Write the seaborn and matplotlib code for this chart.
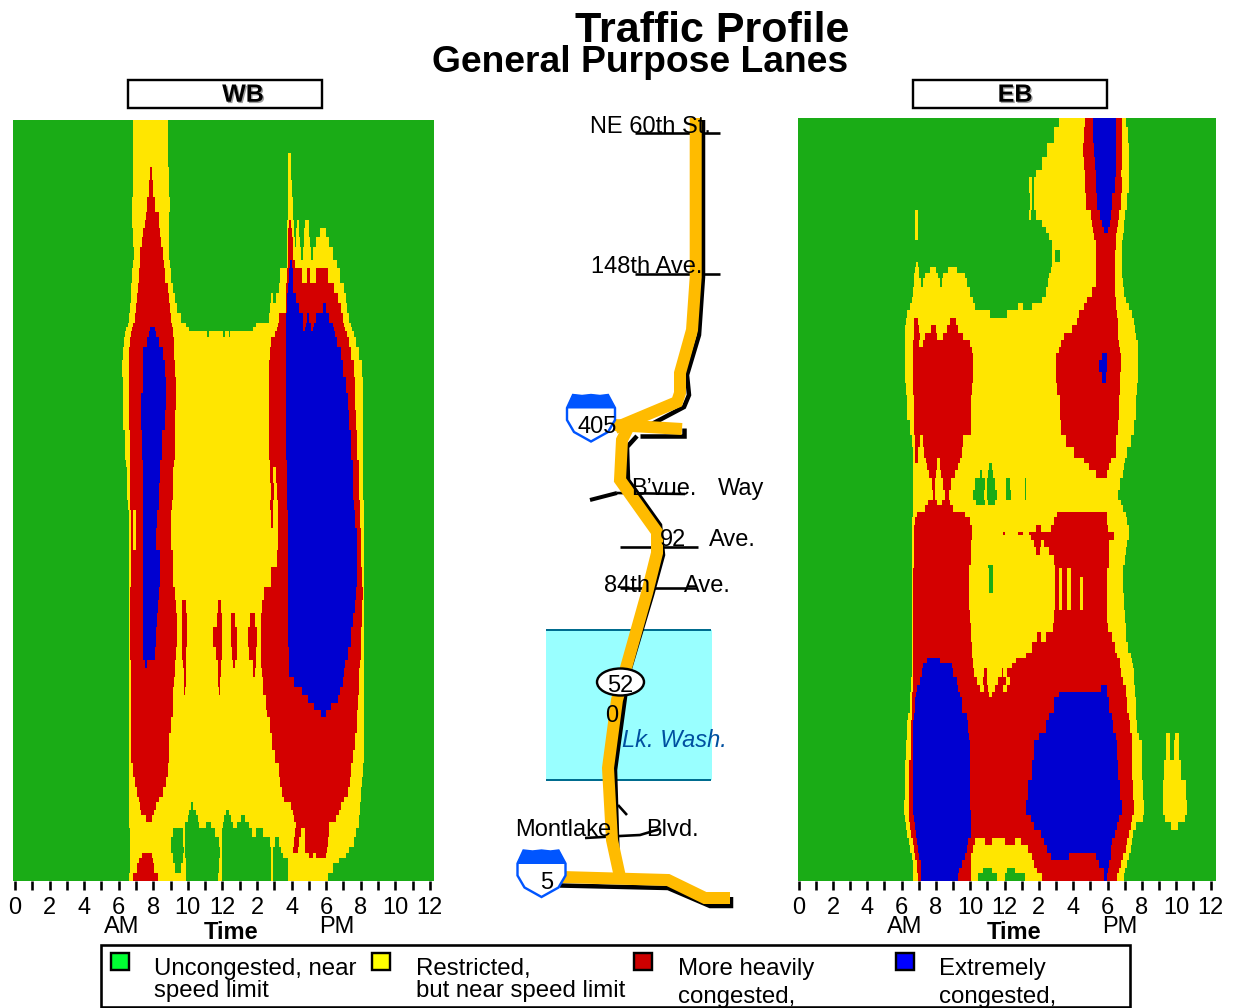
import numpy as np
import matplotlib
matplotlib.use("Agg")
import matplotlib.pyplot as plt
import matplotlib.patheffects as pe
from matplotlib.colors import ListedColormap
from matplotlib.patches import Rectangle, Ellipse, Polygon
import seaborn as sns

sns.set_theme(style="white")
plt.rcParams["font.family"] = ["Liberation Sans", "DejaVu Sans"]

# Congestion states along route (rows) and time of day (columns).
# Each row: (route index, "state+start-time-index" runs); states begin green.
STATE_COLORS = ["#1AAC16", "#FFE600", "#D40000", "#0000D0"]
LEGEND_COLORS = ["#00FF33", "#FFFF00", "#CC0000", "#0000FF"]
HOUR_LABELS = ["0", "2", "4", "6", "8", "10", "12", "2", "4", "6", "8", "10", "12"]

wb_upper = [
    (150, "Y400 G507"),
    (250, "Y400 G507 Y866 G874"),
    (290, "Y400 R452 Y458 G509 Y866 G876"),
    (330, "Y400 R448 Y462 G509 Y866 G878"),
    (380, "Y398 R444 Y466 G511 Y866 G880"),
    (425, "Y398 R440 Y478 G509 Y866 G882"),
    (450, "Y398 R436 Y478 G509 Y864 R868 Y876 G884 Y892 G898 Y916 G928"),
    (475, "Y400 R432 Y482 G510 Y864 R866 Y878 G884 Y890 G900 Y915 G930 Y962 G980"),
    (500, "Y402 R428 Y485 G510 Y864 R866 Y880 G886 Y890 G902 Y914 G932 Y950 G990"),
    (530, "Y404 R423 Y490 G510 Y864 R866 Y882 G906 Y912 G934 Y942 G1002"),
    (570, "Y402 R422 Y495 G512 Y862 R866 B872 R878 Y888 G1012"),
    (595, "Y398 R420 Y498 G514 Y842 R864 B868 R882 Y908 R922 Y932 R950 Y985 G1022"),
    (640, "Y396 R416 Y505 G520 Y838 R860 B866 R882 Y1005 G1034"),
    (670, "Y394 R414 Y508 G526 Y815 G822 Y830 R860 B864 R890 Y1015 G1040"),
    (700, "Y392 R410 Y512 G532 Y812 R860 B862 R900 B970 R980 Y1024 G1044"),
    (730, "Y388 R406 Y515 G545 Y808 R840 B860 R912 B922 R930 B950 R990 Y1030 G1050"),
    (760, "Y385 R400 Y518 G560 Y770 R835 B860 R912 B920 R935 B945 R1000 Y1035 G1055"),
    (770, "Y380 R398 B453 R466 Y520 G570 Y762 R832 B860 R912 B918 R935 B942 R1003 Y1038 G1058"),
    (782, "Y378 R396 B450 R470 Y521 G622 Y628 G672 Y676 G688 Y692 R826 B860 R1006 Y1044 G1064"),
    (800, "Y374 R392 B444 R480 Y523 R815 B860 R1012 Y1050 G1070"),
    (830, "Y372 R390 B432 R490 Y524 R812 B860 R1024 Y1055 G1080"),
    (870, "Y368 R388 B430 R498 Y528 R810 B860 R1032 Y1064 G1088"),
    (920, "Y370 R388 B430 R500 Y531 R810 B860 R1040 Y1066 G1090"),
    (970, "Y372 R390 B424 R500 Y531 R810 B860 R1046 Y1068 G1090"),
    (1020, "Y372 R390 B424 R496 Y528 R810 B860 R1050 Y1070 G1090"),
    (1080, "Y376 R392 B428 R488 Y526 R810 B860 R1054 Y1072 G1090"),
    (1170, "Y380 R392 B430 R482 Y524 R812 B862 R1060 Y1078 G1090"),
    (1190, "Y382 R392 B430 R481 Y522 R812 Y822 R830 B862 R1061 Y1079 G1090"),
    (1240, "Y384 R392 B430 R480 Y520 R814 Y824 R834 B862 R1062 Y1080 G1090"),
]
wb_lower = [
    (0, "Y385 R392 B430 R478 Y518 R812 Y820 R836 B864 R1064 Y1082 G1095"),
    (30, "Y388 R395 Y402 R410 B430 R474 Y516 R814 Y820 R836 B866 R1068 Y1082 G1095"),
    (85, "Y388 R395 Y402 R410 B430 R470 Y515 R836 B866 R1072 Y1084 G1095"),
    (150, "Y388 R394 B430 R482 Y520 R832 B866 R1074 Y1086 G1095"),
    (200, "Y388 R394 B430 R482 Y522 R815 B866 R1074 Y1088 G1095"),
    (260, "Y388 R392 B430 R480 Y528 R795 B866 R1070 Y1090 G1095"),
    (300, "Y388 R392 B430 R476 Y530 R548 Y560 R655 Y665 R788 B866 R1068 Y1088 G1095"),
    (340, "Y388 R392 B430 R472 Y532 R548 Y562 R652 Y668 R696 Y708 R752 Y768 R786 B866 R1062 Y1088 G1095"),
    (380, "Y388 R392 B430 R470 Y532 R548 Y562 R642 Y668 R694 Y712 R745 Y772 R785 B866 R1055 Y1086 G1095"),
    (440, "Y388 R392 B432 R468 Y530 R548 Y560 R650 Y667 R698 Y712 R750 Y770 R786 B868 R1045 Y1084 G1095"),
    (480, "Y388 R394 B436 R444 Y528 R552 Y560 R655 Y665 R700 Y708 R760 Y770 R786 B868 R1038 Y1082 G1095"),
    (505, "Y388 R394 Y526 R555 Y560 R656 Y664 R762 Y768 R788 B870 R1035 Y1080 G1095"),
    (530, "Y388 R394 Y524 R555 Y560 R657 Y663 R790 B885 R1030 Y1080 G1095"),
    (560, "Y388 R394 Y522 R555 Y558 R658 Y662 R792 B908 R1022 Y1078 G1095"),
    (585, "Y388 R394 Y522 R800 B925 R1015 Y1076 G1095"),
    (610, "Y388 R394 Y522 R800 B945 R995 Y1076 G1095"),
    (630, "Y388 R394 Y520 R804 B965 R980 Y1074 G1095"),
    (650, "Y388 R394 Y516 R812 Y1072 G1095"),
    (700, "Y388 R394 Y510 R818 Y1068 G1095"),
    (750, "Y388 R396 Y508 R826 Y1062 G1095"),
    (790, "Y388 R400 Y505 R838 Y1056 G1092"),
    (830, "Y388 R408 Y500 R842 Y1052 G1088"),
    (860, "Y388 R412 Y490 R848 Y1045 G1085"),
    (890, "Y388 R420 Y480 R855 Y1035 G1085"),
    (905, "Y388 R422 Y470 G575 Y582 R875 Y1025 G1082"),
    (930, "Y388 R425 Y465 G568 Y590 G680 Y688 R880 Y1020 G1082"),
    (945, "Y388 R440 Y458 G565 Y595 G675 Y695 G725 Y738 R885 Y1010 G1078"),
    (965, "Y390 G558 Y600 G620 Y635 G670 Y700 G712 Y748 R890 Y990 G1078"),
    (985, "Y392 G520 Y550 G558 Y648 G668 Y758 G770 Y792 R888 Y905 R916 Y988 G1070"),
    (1010, "Y392 G516 Y552 G558 Y660 G668 Y812 G828 Y840 R885 Y900 R918 Y985 G1065"),
    (1040, "Y392 G515 Y555 G558 Y662 G668 Y815 G822 Y845 R882 Y895 R918 Y982 G1050"),
    (1060, "Y392 R428 Y458 G520 Y552 G558 Y662 G668 Y815 G822 Y850 R930 Y940 R950 Y980 G1040"),
    (1075, "Y392 R420 Y462 G522 Y550 G560 Y660 G668 Y815 G822 Y866 G1020"),
    (1090, "Y392 R412 Y465 G528 Y545 G560 Y660 G668 Y815 G822 Y866 G1000"),
    (1120, "Y388 R402 Y475 G560 Y655 G668 Y815 G822 Y866 G985"),
]
eb_upper = [
    (143, "Y830 R908 B932 R1002 Y1018 G1032"),
    (170, "Y815 R905 B932 R1002 Y1020 G1036"),
    (220, "Y795 R903 B935 R1002 Y1020 G1040"),
    (260, "Y780 R905 B938 R1000 Y1018 G1040"),
    (300, "Y760 R908 B940 R1000 Y1015 G1040"),
    (320, "Y740 G748 Y756 R908 B942 R998 Y1018 G1040"),
    (370, "Y742 G750 Y755 R910 B945 R990 Y1015 G1034"),
    (420, "Y395 G403 Y740 G746 Y760 R925 B952 R985 Y1010 G1028"),
    (450, "Y395 G403 Y780 R930 B958 R982 Y1008 G1026"),
    (470, "Y395 G403 Y790 R932 B965 R978 Y1005 G1024"),
    (490, "Y395 G403 Y800 R936 Y1002 G1022"),
    (510, "Y808 R940 Y1000 G1018"),
    (540, "Y810 G818 Y832 R942 Y998 G1018"),
    (575, "Y398 G404 Y808 R942 Y997 G1018"),
    (590, "Y395 G408 Y440 G458 Y495 G520 Y805 R940 Y997 G1020"),
    (610, "Y392 G408 Y425 G465 Y480 G545 Y800 R940 Y997 G1020"),
    (625, "Y392 G412 Y420 G470 Y475 G552 Y798 R940 Y997 G1022"),
    (650, "Y388 G560 Y790 R930 Y997 G1024"),
    (680, "Y385 G570 Y780 R915 Y1000 G1032"),
    (700, "Y380 G575 Y705 G720 Y750 R905 Y1002 G1040"),
    (720, "Y372 G620 Y670 R890 Y1004 G1050"),
    (745, "Y368 R392 Y404 R500 Y518 R885 Y1006 G1056"),
    (765, "Y366 R392 Y406 R442 Y458 R490 Y525 R870 Y1007 G1058"),
    (790, "Y365 R392 Y410 R425 Y462 R478 Y540 R845 Y1008 G1062"),
    (810, "Y365 R390 Y408 R418 Y560 R835 Y1010 G1066"),
    (830, "Y365 R388 Y565 R830 Y1012 G1068"),
    (850, "Y365 R388 Y568 R822 B960 R975 Y1016 G1068"),
    (870, "Y365 R388 Y568 R822 B950 R975 Y1016 G1068"),
    (905, "Y365 R388 Y568 R822 B958 R972 Y1014 G1066"),
    (940, "Y368 R390 Y565 R824 Y1012 G1064"),
    (975, "Y372 R392 Y564 R832 Y1010 G1060"),
    (1050, "Y380 R392 Y562 R835 Y1006 G1056"),
    (1095, "Y385 R395 Y410 R418 Y540 R850 Y1002 G1045"),
    (1130, "Y388 R396 Y405 R422 Y535 R875 Y1000 G1034"),
    (1165, "Y388 R396 Y404 R428 Y462 R470 Y530 R905 Y985 G1028"),
    (1180, "Y388 R430 Y460 R470 Y525 G618 Y626 R920 Y980 G1024"),
    (1200, "Y388 R436 Y458 R472 Y515 G590 Y596 G615 Y630 R940 Y975 G1022"),
    (1225, "Y390 R445 Y455 R480 Y502 G575 Y605 G612 Y635 G668 Y680 G725 Y732 G1012"),
    (1260, "Y390 R450 Y455 R485 Y498 G570 Y602 G612 Y640 G668 Y684 G725 Y732 G1008"),
]
eb_lower = [
    (0, "Y390 R435 Y460 R475 Y500 G578 Y605 G615 Y635 G1016"),
    (15, "Y390 R425 Y510 G1022"),
    (35, "Y388 R400 Y545 R825 Y975 G1030"),
    (50, "Y385 R395 Y560 R815 Y975 G1035"),
    (75, "Y385 R392 Y565 R762 Y775 R805 Y978 G1040"),
    (95, "Y385 R392 Y565 R660 Y665 R705 Y720 R740 Y995 G1040"),
    (105, "Y385 R392 Y565 R745 Y995 G1040"),
    (120, "Y385 R392 Y562 R755 Y775 R785 Y980 G1035"),
    (140, "Y385 R392 Y562 R760 Y772 R800 Y980 G1030"),
    (165, "Y385 R392 Y562 R815 Y980 G1028"),
    (195, "Y385 R392 Y558 G615 Y630 R818 Y980 G1022"),
    (205, "Y385 R390 Y558 G618 Y630 R818 Y830 R838 Y855 R866 Y975 G1022"),
    (230, "Y385 R390 Y558 G618 Y628 R818 Y830 R838 Y855 R866 Y893 R902 Y975 G1022"),
    (280, "Y385 R390 Y558 R818 Y830 R838 Y855 R866 Y893 R902 Y975 G1026"),
    (330, "Y385 R390 Y560 R815 Y975 G1028"),
    (370, "Y385 R390 Y562 R812 Y978 G1030"),
    (395, "Y385 R390 Y563 R765 Y775 R790 Y988 G1032"),
    (425, "Y385 R390 Y565 R750 Y998 G1036"),
    (460, "Y385 R390 Y566 R728 Y1005 G1045"),
    (475, "Y385 R390 B430 R470 Y570 R698 Y1012 G1050"),
    (490, "Y385 R390 B420 R505 Y570 R686 Y1014 G1052"),
    (505, "Y385 R390 B415 R510 Y572 R602 Y610 R655 Y660 R672 Y1017 G1054"),
    (530, "Y384 R390 B410 R520 Y580 R600 Y612 R645 Y668 R680 Y1022 G1055"),
    (555, "Y382 R388 B402 R525 Y590 R602 Y614 R635 Y660 R670 B955 R975 Y1030 G1058"),
    (575, "Y380 R386 B398 R530 Y616 R626 B830 R975 Y1032 G1058"),
    (590, "Y380 R385 B395 R535 B815 R980 Y1035 G1060"),
    (640, "Y375 R385 B392 R550 B800 R990 Y1040 G1062"),
    (660, "Y372 R382 B390 R555 B790 R993 Y1044 G1064"),
    (700, "Y370 R382 B388 R558 B770 R1000 Y1048 G1070 Y1155 G1165 Y1180 G1192"),
    (720, "Y368 R382 B388 R560 B755 R1003 Y1050 G1078 Y1155 G1165 Y1178 G1192"),
    (780, "Y365 R378 B388 R560 B748 R1008 Y1050 G1080 Y1148 G1198"),
    (840, "Y365 R376 B388 R560 B738 R1014 Y1052 G1082 Y1146 G1214"),
    (900, "Y362 R376 B388 R560 B732 R1018 Y1055 G1085 Y1144 G1216"),
    (930, "Y362 R376 B390 R562 B730 R1018 Y1055 G1085 Y1145 G1218"),
    (945, "Y366 R378 B392 R562 B745 R1010 Y1048 G1082 Y1150 G1210"),
    (965, "Y368 R380 B395 R562 B755 R1005 Y1046 G1060 Y1170 G1190"),
    (990, "Y372 R384 B398 R562 B775 R998 Y1040 G1052"),
    (1015, "Y378 R388 B402 R555 Y575 R605 Y625 R665 Y695 R712 B785 R990 Y1035 G1050"),
    (1035, "Y380 R392 B405 R552 Y568 R738 B795 R985 Y1030 G1045"),
    (1060, "Y385 R396 B408 R545 Y563 R748 B805 R860 B940 R985 Y1022 G1040"),
    (1080, "Y388 R400 B412 R535 Y562 R755 B950 R980 Y1015 G1035"),
    (1105, "Y388 R402 B412 R528 Y562 G600 Y625 G670 Y695 R765 B965 R978 Y1010 G1028"),
    (1120, "Y388 R404 B414 R525 Y562 G585 Y640 G665 Y725 R780 B965 R975 Y1005 G1024"),
]

# Map geometry (figure pixels)
route_orange = [(695.7, 118), (695.7, 277), (692, 330), (680, 373), (680, 393), (677, 402), (615, 428)]
route_orange2 = [(615, 425), (682, 429)]
route_orange3 = [(628, 428), (622, 440), (620, 480), (647, 518), (657, 532), (657, 553), (647, 593),
                 (617, 700), (608, 768), (612, 840), (620, 877)]
route_orange4 = [(562, 877), (668, 880), (705, 898), (730, 898)]
route_black = [(703, 120), (703, 277), (699, 335), (687, 375), (689, 395), (684, 407), (650, 425)]
route_black2 = [(640, 436), (684, 436), (684, 428)]
route_black3 = [(637, 436), (627, 447), (628, 480), (660, 525), (663, 555), (652, 595), (628, 675),
                (615, 770), (618, 870), (626, 877)]
route_black4 = [(560, 885.5), (668, 888), (710, 906), (731, 906), (731, 897)]
cross_roads = [
    [(635, 132.5), (720, 132.5)],
    [(635, 274), (720, 274)],
    [(617, 493), (685, 494)],
    [(620, 547), (698, 547)],
    [(620, 588), (697, 588)],
    [(585, 838), (620, 836), (640, 835), (660, 829)],
    [(618, 805), (627, 815)],
]
bvue_stub = [(590, 500), (617, 493)]
shield_405 = [(573, 395), (582, 396), (591, 395), (600, 396), (608, 395), (615, 408), (615, 420),
              (608, 432), (591, 441.5), (574, 432), (567, 420), (567, 408)]
shield_5_shift = (-49.5, 455.5)

PX = 1 / 100 * 72  # points per figure pixel
fig = plt.figure(figsize=(12.4, 10.08), dpi=100, facecolor="white")
W, H = 1240, 1008


def build(upper, lower, top_y, first_col=40, ncols=1263):
    ny = 881 - top_y
    mat = np.zeros((ny, ncols // 3), dtype=int)
    states = {"G": 0, "Y": 1, "R": 2, "B": 3}
    rows = [(70 + z / 3, s) for z, s in upper] + [(500 + z / 3, s) for z, s in lower]
    rows.append((881, ""))
    for (y0, s), (y1, _) in zip(rows[:-1], rows[1:]):
        line = np.zeros(ncols // 3, dtype=int)
        for tok in s.split():
            line[(int(tok[1:]) - first_col) // 3:] = states[tok[0]]
        mat[max(int(round(y0)) - top_y, 0):int(round(y1)) - top_y] = line
    return mat


def panel(mat, x0, x1, y0, y1, tick0):
    ax = fig.add_axes([x0 / W, 1 - y1 / H, (x1 - x0) / W, (y1 - y0) / H])
    sns.heatmap(mat, cmap=ListedColormap(STATE_COLORS), vmin=-0.5, vmax=3.5, cbar=False,
                xticklabels=False, yticklabels=False, ax=ax, rasterized=True)
    hours = np.arange(25)
    col_per_hour = 51.9 / 3
    ax.set_xticks(tick0 + hours * col_per_hour)
    ax.set_xticklabels([HOUR_LABELS[h // 2] if h % 2 == 0 else "" for h in hours], fontsize=17)
    ax.tick_params(axis="x", bottom=True, length=9 * PX, width=2.6 * PX, color="black", pad=5, labelcolor="black")
    for sp in ax.spines.values():
        sp.set_visible(False)
    return ax


panel(build(wb_upper, wb_lower, 120), 13.3, 434, 120, 881, 5 / 3)
panel(build(eb_upper, eb_lower, 118), 798.3, 1216, 118, 881, 1 / 3)

# overlay in figure pixels
ov = fig.add_axes([0, 0, 1, 1], facecolor="none")
ov.set_xlim(0, W)
ov.set_ylim(H, 0)
ov.axis("off")


def poly(pts, color, lw, z=2):
    xs, ys = zip(*pts)
    ov.plot(xs, ys, color=color, lw=lw * PX, solid_joinstyle="miter", solid_capstyle="butt", zorder=z)


ov.add_patch(Rectangle((546, 630), 166, 150, fc="#99FFFF", ec="none", zorder=1))
poly([(546, 630), (711, 630)], "#006C8F", 2, 1.5)
poly([(546, 780), (711, 780)], "#006C8F", 2, 1.5)
for r in cross_roads:
    poly(r, "black", 2.6, 2)
poly(bvue_stub, "black", 4, 2)
for pts in (route_black, route_black3, route_black4, route_black2):
    poly(pts, "black", 4.5, 3)
for pts in (route_orange, route_orange3, route_orange2, route_orange4):
    poly(pts, "#FFBB00", 12, 4)
for dx, dy in [(0, 0), shield_5_shift]:
    outline = [(x + dx, y + dy) for x, y in shield_405]
    ov.add_patch(Polygon(outline, closed=True, fc="white", ec="#0055FF", lw=2.4 * PX, zorder=5))
    band = outline[:6] + [outline[-1]]
    ov.add_patch(Polygon(band, closed=True, fc="#0055FF", ec="#0055FF", lw=1 * PX, zorder=5))
ov.add_patch(Ellipse((620.5, 682), 47, 27, fc="white", ec="black", lw=2.4 * PX, zorder=5))

FS = 17


def t(x, y, s, ha="left", fs=FS, z=8, **kw):
    return ov.text(x, y + 1.7, s, ha=ha, va="center", fontsize=fs, color=kw.pop("color", "black"), zorder=z, **kw)


t(712.5, 29, "Traffic Profile", ha="center", fs=31, fontweight="bold")
t(640, 60.5, "General Purpose Lanes", ha="center", fs=26.8, fontweight="bold")
for (x0, x1, cx, lab) in [(128, 322, 243, "WB"), (913, 1107, 1015, "EB")]:
    ov.add_patch(Rectangle((x0, 80), x1 - x0, 28, fc="white", ec="black", lw=2.4 * PX, zorder=6))
    t(cx, 93, lab, ha="center", fs=18, fontweight="bold",
      path_effects=[pe.withSimplePatchShadow(offset=(1, -1), shadow_rgbFace="#777777", alpha=0.7)])
t(590, 125, "NE 60th St.")
t(591, 265, "148th Ave.")
t(578, 425, "405")
t(631, 487, "B\u2019vue.")
t(718, 487, "Way")
t(660, 538, "92")
t(709, 538, "Ave.")
t(604, 584, "84th")
t(684, 584, "Ave.")
t(620, 684, "52", ha="center")
t(612, 714, "0", ha="center")
t(622, 739, "Lk. Wash.", style="italic", color="#0050A0")
t(515, 828, "Montlake")
t(646, 828, "Blvd.")
t(540, 881, "5")

for am, tm, pm in [(122, 231, 337), (905, 1014, 1120)]:
    t(am, 925, "AM", ha="center")
    t(tm, 930.5, "Time", ha="center", fontweight="bold")
    t(pm, 925, "PM", ha="center")

# legend
legend_labels = [
    ("Uncongested, near", "speed limit", 989),
    ("Restricted,", "but near speed limit", 989),
    ("More heavily", "congested,", 995),
    ("Extremely", "congested,", 995),
]
swatch_x = [111, 372, 634, 896]
text_x = [154, 416, 678, 939]
ov.add_patch(Rectangle((101, 944.5), 1029, 62, fc="white", ec="black", lw=2.6 * PX, zorder=6))
for sx, tx, c, (l1, l2, y2) in zip(swatch_x, text_x, LEGEND_COLORS, legend_labels):
    ov.add_patch(Rectangle((sx, 953), 18, 17, fc=c, ec="black", lw=2.4 * PX, zorder=7))
    t(tx, 967, l1, fs=17.3)
    t(tx, y2, l2, fs=17.3)

fig.savefig("out.png", dpi=100)
